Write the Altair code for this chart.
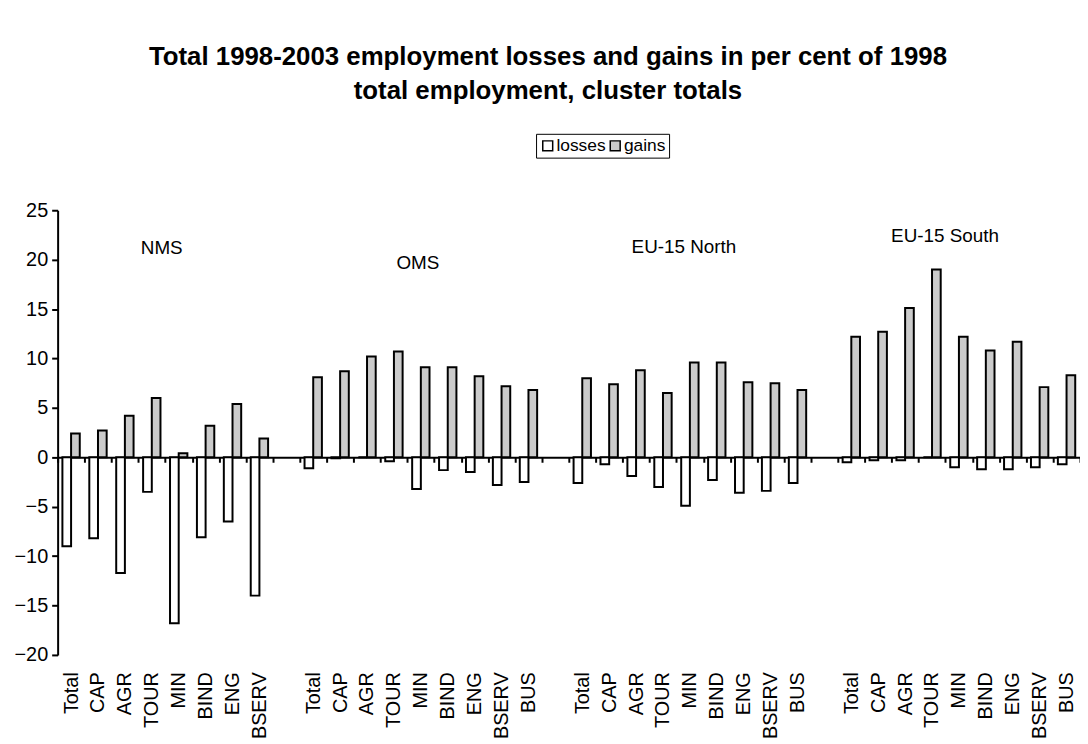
import altair as alt
import pandas as pd

FONT = "Liberation Sans"

# ---- data ----
groups = ["NMS", "OMS", "EU-15 North", "EU-15 South"]
sectors_nms = ["Total", "CAP", "AGR", "TOUR", "MIN", "BIND", "ENG", "BSERV"]
sectors_other = ["Total", "CAP", "AGR", "TOUR", "MIN", "BIND", "ENG", "BSERV", "BUS"]

nms_losses = [-9.0, -8.2, -11.7, -3.5, -16.8, -8.1, -6.5, -14.0]
nms_gains = [2.4, 2.7, 4.2, 6.0, 0.4, 3.2, 5.4, 1.9]
oms_losses = [-1.1, -0.1, 0.0, -0.4, -3.2, -1.3, -1.5, -2.8, -2.5]
oms_gains = [8.1, 8.7, 10.2, 10.7, 9.1, 9.1, 8.2, 7.2, 6.8]
north_losses = [-2.6, -0.7, -1.9, -3.0, -4.9, -2.3, -3.6, -3.4, -2.6]
north_gains = [8.0, 7.4, 8.8, 6.5, 9.6, 9.6, 7.6, 7.5, 6.8]
south_losses = [-0.5, -0.3, -0.3, 0.0, -1.0, -1.2, -1.2, -1.0, -0.7]
south_gains = [12.2, 12.7, 15.1, 19.0, 12.2, 10.8, 11.7, 7.1, 8.3]

series = ["losses", "gains"]
series_fill = ["#ffffff", "#cbcbcb"]

# group annotation labels: text, sector slot they sit over, height (data units)
label_text = ["NMS", "OMS", "EU-15 North", "EU-15 South"]
label_slot = ["TOUR", "MIN", "MIN", "MIN"]
label_value = [21.2, 19.7, 21.3, 22.4]
label_dx = [10, -3, -6, -14]

group_data = [
    (sectors_nms, nms_losses, nms_gains),
    (sectors_other, oms_losses, oms_gains),
    (sectors_other, north_losses, north_gains),
    (sectors_other, south_losses, south_gains),
]

rows = []
domain = []
for gi, (g, (secs, lo, ga)) in enumerate(zip(groups, group_data)):
    if gi > 0:
        domain.append(f"gap{gi}")
    for s, l, v in zip(secs, lo, ga):
        key = f"{g}|{s}"
        domain.append(key)
        rows.append({"key": key, "series": "losses", "value": l})
        rows.append({"key": key, "series": "gains", "value": v})
df = pd.DataFrame(rows)

ldf = pd.DataFrame({
    "key": [f"{t}|{s}" for t, s in zip(label_text, label_slot)],
    "value": label_value,
    "label": label_text,
})

W, H = 1030, 448
Y_MIN, Y_MAX = -20, 25
zero_from_bottom = H * (0 - Y_MIN) / (Y_MAX - Y_MIN)

x_scale = alt.Scale(domain=domain, paddingInner=0, paddingOuter=0)
y_scale = alt.Scale(domain=[Y_MIN, Y_MAX], nice=False)

x_axis = alt.Axis(
    title=None, orient="bottom", offset=-zero_from_bottom,
    domainColor="black", domainWidth=2, tickColor="black", tickWidth=2, tickSize=5,
    tickBand="extent", labelExpr="split(datum.label, '|')[1] || ''",
    labelAngle=270, labelAlign="right", labelBaseline="middle", labelPadding=211,
    labelFont=FONT, labelFontSize=20, labelColor="black",
    labelOverlap=False, labelBound=False, grid=False,
)
y_axis = alt.Axis(
    title=None, values=list(range(Y_MIN, Y_MAX + 1, 5)), grid=False,
    domainColor="black", domainWidth=2, tickColor="black", tickWidth=2, tickSize=6,
    labelFont=FONT, labelFontSize=20, labelColor="black", labelPadding=4,
)

bars = alt.Chart(df).mark_bar(stroke="black", strokeWidth=2).encode(
    x=alt.X("key:N", scale=x_scale, axis=x_axis),
    xOffset=alt.XOffset("series:N", scale=alt.Scale(domain=series, paddingInner=0, paddingOuter=0.55)),
    y=alt.Y("value:Q", scale=y_scale, axis=y_axis),
    fill=alt.Fill(
        "series:N",
        scale=alt.Scale(domain=series, range=series_fill),
        legend=alt.Legend(
            orient="none", legendX=482, legendY=-77, direction="horizontal", title=None,
            strokeColor="black", fillColor="white", padding=3, symbolType="square",
            symbolSize=100, symbolStrokeColor="black", symbolStrokeWidth=1.5,
            labelFont=FONT, labelFontSize=17.5, labelColor="black", labelOffset=0,
            columnPadding=0,
        ),
    ),
)

layers = [bars]
for i in range(len(label_text)):
    layers.append(
        alt.Chart(ldf)
        .transform_filter(alt.datum.label == label_text[i])
        .mark_text(font=FONT, fontSize=19, color="black", dx=label_dx[i])
        .encode(x=alt.X("key:N", scale=x_scale, axis=x_axis),
                y=alt.Y("value:Q", scale=y_scale, axis=y_axis),
                text="label:N")
    )

chart = (
    alt.layer(*layers)
    .properties(
        width=W, height=H,
        autosize=alt.AutoSizeParams(type="none"),
        padding={"left": 50, "top": 201, "right": 0, "bottom": 87},
        view=alt.ViewBackground(stroke="transparent", strokeWidth=0),
        title=alt.TitleParams(
            ["Total 1998-2003 employment losses and gains in per cent of 1998",
             "total employment, cluster totals"],
            font=FONT, fontSize=26, fontWeight="bold", color="black",
            anchor="middle", frame="group", dx=-21, offset=30, lineHeight=34,
        ),
    )
    .configure_view(strokeWidth=0)
    .configure_axis(gridOpacity=0)
    .configure(background="white")
)

chart.save("out.html", embed_options={"renderer": "svg", "actions": False})
